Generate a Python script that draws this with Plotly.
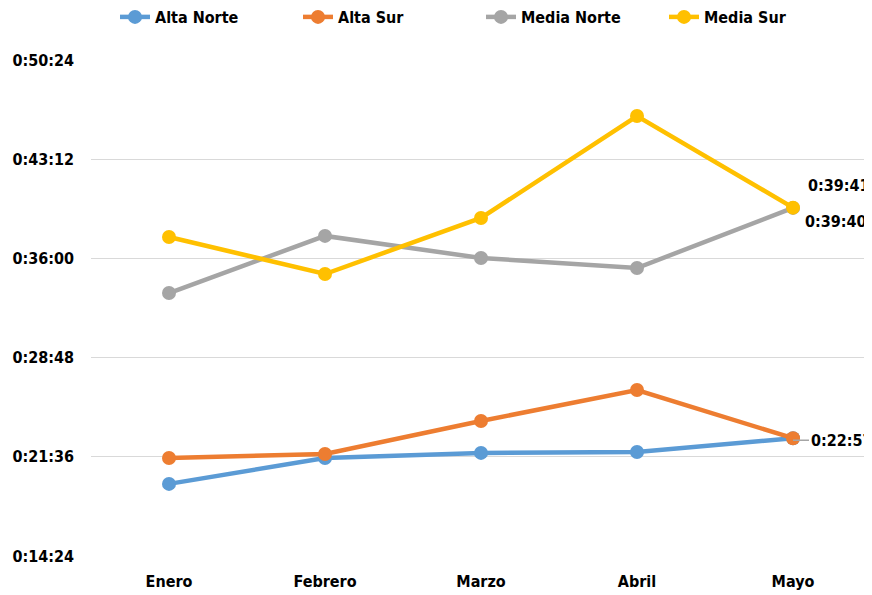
import plotly.graph_objects as go

months = ["Enero", "Febrero", "Marzo", "Abril", "Mayo"]
alta_norte = ["0:19:38", "0:21:31", "0:21:53", "0:21:57", "0:22:57"]
alta_sur = ["0:21:31", "0:21:48", "0:24:12", "0:26:27", "0:22:57"]
media_norte = ["0:33:29", "0:37:38", "0:36:02", "0:35:18", "0:39:40"]
media_sur = ["0:37:33", "0:34:52", "0:38:56", "0:46:20", "0:39:41"]
tick_labels = ["0:14:24", "0:21:36", "0:28:48", "0:36:00", "0:43:12", "0:50:24"]

def to_sec(s):
    h, m, x = s.split(":")
    return int(h) * 3600 + int(m) * 60 + int(x)

series = [
    ("Alta Norte", alta_norte, "#5B9BD5"),
    ("Alta Sur", alta_sur, "#ED7D31"),
    ("Media Norte", media_norte, "#A5A5A5"),
    ("Media Sur", media_sur, "#FFC000"),
]

FONT = "DejaVu Sans Condensed, Liberation Sans Narrow, sans-serif"

fig = go.Figure()
for name, vals, col in series:
    fig.add_trace(go.Scatter(
        x=months, y=[to_sec(v) for v in vals], name=name, mode="lines+markers",
        line=dict(color=col, width=4.5), marker=dict(color=col, size=14),
    ))

tickvals = [to_sec(t) for t in tick_labels]

lab_font = dict(size=16, color="black", family=FONT, weight="bold")
fig.add_annotation(x="Mayo", y=to_sec(media_sur[-1]), text=media_sur[-1],
                   showarrow=False, xanchor="left", yanchor="middle", xshift=13, yshift=22,
                   font=lab_font)
fig.add_annotation(x="Mayo", y=to_sec(media_norte[-1]), text=media_norte[-1],
                   showarrow=False, xanchor="left", yanchor="middle", xshift=10, yshift=-14,
                   font=lab_font)
fig.add_annotation(x="Mayo", y=to_sec(alta_sur[-1]), text=alta_sur[-1],
                   showarrow=True, ax=16, ay=0, axref="pixel", ayref="pixel",
                   arrowhead=0, arrowcolor="#A5A5A5", arrowwidth=1.5, standoff=0,
                   xanchor="left", yanchor="middle", yshift=-2,
                   font=lab_font)

# figure is drawn 8px in from the page's top-left corner (page body margin)
fig.update_layout(
    width=864, height=587,
    margin=dict(l=83, r=1, t=52, b=39, autoexpand=False),
    paper_bgcolor="white", plot_bgcolor="white",
    font=dict(family=FONT, size=16, color="black"),
    showlegend=True,
    legend=dict(orientation="h", x=0.5, xanchor="center", y=1 - 9 / 587, yanchor="middle",
                yref="container", font=dict(size=16, family=FONT, weight="bold"),
                entrywidth=138, entrywidthmode="pixels", tracegroupgap=0),
    xaxis=dict(range=[-0.5, 4.5], showgrid=False, showline=False, zeroline=False, ticks="",
               tickfont=dict(size=16, family=FONT, weight="bold"), ticklabelstandoff=14),
    yaxis=dict(range=[tickvals[0], tickvals[-1]], tickvals=tickvals, ticktext=tick_labels,
               showgrid=True, gridcolor="#D9D9D9", gridwidth=1.3, zeroline=False,
               showline=False, ticks="", ticklabelstandoff=16,
               tickfont=dict(size=16, family=FONT, weight="bold")),
)
fig.write_html("out.html")
